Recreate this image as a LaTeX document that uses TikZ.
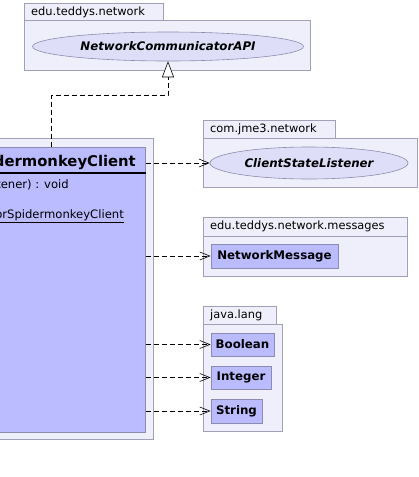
\documentclass[tikz,border=0pt]{standalone}
\usepackage{fontspec}
\setmainfont{DejaVu Sans}
\usetikzlibrary{arrows.meta,shapes.geometric}
\definecolor{pkgfill}{HTML}{EFEFFB}
\definecolor{pkgdraw}{HTML}{A0A0B8}
\definecolor{clsfill}{HTML}{BBBBFF}
\definecolor{clsdraw}{HTML}{8C8CB0}
\definecolor{ifcfill}{HTML}{DEDEF8}
\begin{document}
\begin{tikzpicture}[x=1pt,y=-1pt,
  pkg/.style={draw=pkgdraw,fill=pkgfill,line width=0.8pt},
  pkglabel/.style={anchor=west,inner sep=0pt,font=\fontsize{11.4}{13}\selectfont},
  clsbox/.style={draw=clsdraw,fill=clsfill,line width=0.8pt,inner sep=0pt,
    font=\fontsize{11.8}{13}\selectfont\bfseries},
  ifc/.style={ellipse,draw=clsdraw,fill=ifcfill,line width=0.6pt,inner sep=0pt,
    font=\fontsize{11.8}{13}\selectfont\bfseries\itshape},
  dep/.style={draw=black,line width=0.6pt,dash pattern=on 5pt off 3pt,
    -{Straight Barb[length=10pt,width=8pt,line width=0.6pt]}},
  real/.style={draw=black,line width=0.6pt,dash pattern=on 5pt off 3pt,
    -{Triangle[open,length=16pt,width=12pt,fill=white,line width=0.6pt]}},
  txt/.style={inner sep=0pt,font=\fontsize{11.6}{13}\selectfont}
]
\useasboundingbox[fill=white] (0,0) rectangle (419,477);

% package edu.teddys.network
\path[pkg] (24,3) rectangle (163,20);
\path[pkg] (24,20) rectangle (310,70);
\node[pkglabel] (p1) at (31,12) {edu.teddys.network};
\node[ifc,minimum width=271pt,minimum height=29pt] (api) at (168,46.5) {NetworkCommunicatorAPI};

% package com.jme3.network
\path[pkg] (203,120) rectangle (335,138);
\path[pkg] (203,138) rectangle (417,187);
\node[pkglabel] (p2) at (210,129) {com.jme3.network};
\node[ifc,minimum width=198pt,minimum height=32pt] (csl) at (309,163) {ClientStateListener};

% package edu.teddys.network.messages
\path[pkg] (203,217) rectangle (407,236);
\path[pkg] (203,236) rectangle (407,276);
\node[pkglabel] (p3) at (210,226.5) {edu.teddys.network.messages};
\node[clsbox,minimum width=127pt,minimum height=24pt] (nm) at (274.5,256) {NetworkMessage};

% package java.lang
\path[pkg] (203,306) rectangle (276,324);
\path[pkg] (203,324) rectangle (282,431);
\node[pkglabel] (p4) at (210,315) {java.lang};
\node[clsbox,minimum width=63pt,minimum height=23pt] (bool) at (242.5,344.5) {Boolean};
\node[clsbox,minimum width=60pt,minimum height=23pt] (int) at (241,377.5) {Integer};
\node[clsbox,minimum width=51pt,minimum height=24pt] (str) at (236.5,411) {String};

% client package and class
\path[pkg] (-5,138) rectangle (153,439);
\node[clsbox,anchor=north east,minimum width=151pt,minimum height=285pt] (cls) at (146,147) {};
\draw[black,line width=1.6pt] (cls.north west |- 0,173) -- (cls.east |- 0,173);
\node[txt,anchor=base east,font=\fontsize{14.8}{16}\selectfont\bfseries] (cname) at (136,166) {dermonkeyClient};
\node[txt,anchor=base east] (m1) at (69,188) {tener) : void};
\node[txt,anchor=base east] (m2) at (124,218) {\underline{orSpidermonkeyClient}};

% connectors
\draw[real] ([xshift=57pt]cls.north west) |- ([yshift=-34pt]api.south) -- (api.south);
\draw[dep] (cls.east |- csl.west) -- (csl.west);
\draw[dep] (cls.east |- nm.west) -- (nm.west);
\draw[dep] (cls.east |- bool.west) -- (bool.west);
\draw[dep] (cls.east |- int.west) -- (int.west);
\draw[dep] (cls.east |- str.west) -- (str.west);
\end{tikzpicture}
\end{document}
